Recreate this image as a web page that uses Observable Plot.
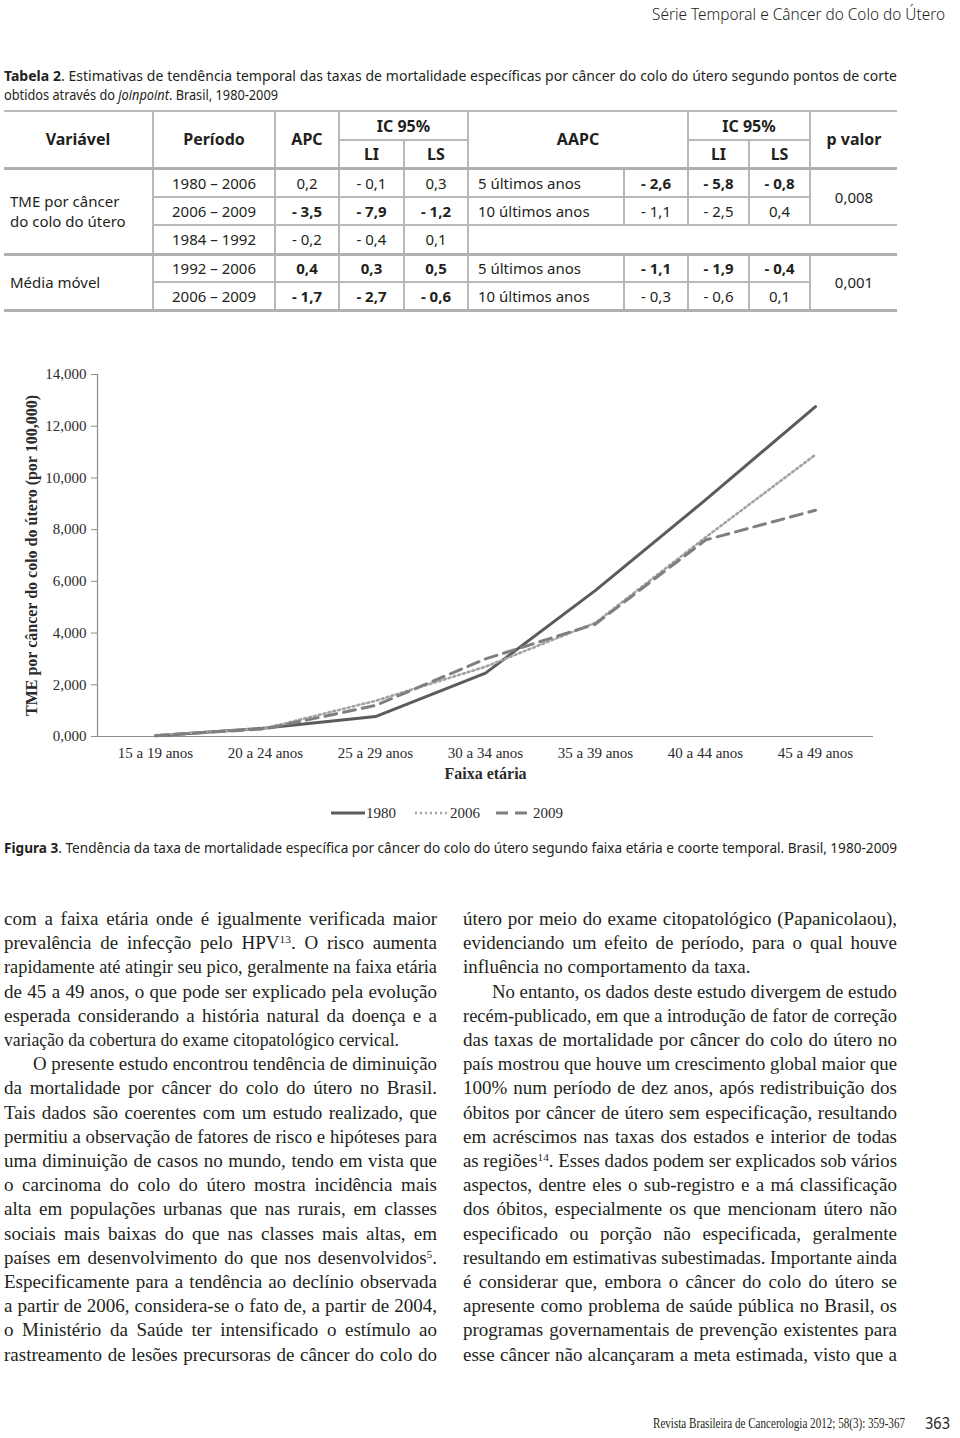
<!DOCTYPE html>
<html><head><meta charset="utf-8">
<script src="https://cdn.jsdelivr.net/npm/d3@7"></script>
<script src="https://cdn.jsdelivr.net/npm/@observablehq/plot@0.6"></script>
<style>
html,body{margin:0;padding:0;background:#fff;}
#page{position:relative;width:960px;height:1438px;overflow:hidden;color:#231f20;}
.abs{position:absolute;white-space:nowrap;}
.sans{font-family:"Noto Sans",sans-serif;}
.serif{font-family:"Liberation Serif",serif;}
sup{font-size:0.6em;vertical-align:0.55em;line-height:0;}
table.t{position:absolute;left:4px;top:110px;width:893px;border-collapse:collapse;table-layout:fixed;font-family:"Noto Sans",sans-serif;font-size:15px;color:#231f20;}
table.t td{border:2px solid #b9b9b9;text-align:center;padding:0;white-space:nowrap;}
table.t td.L{border-left:none;text-align:left;padding-left:6px;white-space:normal;line-height:20px;}
table.t td.R{border-right:none;}
table.t td.lab{text-align:left;padding-left:9px;}
table.t tr.hd td{font-weight:bold;font-size:16px;}
table.t tr.hd td.L{text-align:center;padding-left:0;}
table.t .b{font-weight:bold;}
table.t tr.major td{border-top:3px solid #b0b0b0;}
</style>
</head><body>
<div id="page"></div>
<script>
// ---------- data ----------
const ageGroups = ["15 a 19 anos","20 a 24 anos","25 a 29 anos","30 a 34 anos","35 a 39 anos","40 a 44 anos","45 a 49 anos"];
const cohorts = ["1980","2006","2009"];
const rate1980 = [0.03, 0.33, 0.77, 2.45, 5.65, 9.15, 12.76];
const rate2006 = [0.05, 0.32, 1.38, 2.70, 4.40, 7.70, 10.90];
const rate2009 = [0.03, 0.30, 1.20, 3.00, 4.35, 7.60, 8.75];
const yTicks = [0, 2, 4, 6, 8, 10, 12, 14];

const variables = ["TME por câncer<br>do colo do útero", "Média móvel"];
const periods = ["1980 – 2006","2006 – 2009","1984 – 1992","1992 – 2006","2006 – 2009"];
const apc   = ["0,2","- 3,5","- 0,2","0,4","- 1,7"];
const apcLI = ["- 0,1","- 7,9","- 0,4","0,3","- 2,7"];
const apcLS = ["0,3","- 1,2","0,1","0,5","- 0,6"];
const apcBold = [false,true,false,true,true];
const aapcLabel = ["5 últimos anos","10 últimos anos",null,"5 últimos anos","10 últimos anos"];
const aapc   = ["- 2,6","- 1,1",null,"- 1,1","- 0,3"];
const aapcLI = ["- 5,8","- 2,5",null,"- 1,9","- 0,6"];
const aapcLS = ["- 0,8","0,4",null,"- 0,4","0,1"];
const aapcBold = [true,false,false,true,false];
const pValues = ["0,008","0,001"];

const leftLines = [
 "com a faixa etária onde é igualmente verificada maior",
 "prevalência de infecção pelo HPV<sup>13</sup>. O risco aumenta",
 "rapidamente até atingir seu pico, geralmente na faixa etária",
 "de 45 a 49 anos, o que pode ser explicado pela evolução",
 "esperada considerando a história natural da doença e a",
 "variação da cobertura do exame citopatológico cervical.",
 "O presente estudo encontrou tendência de diminuição",
 "da mortalidade por câncer do colo do útero no Brasil.",
 "Tais dados são coerentes com um estudo realizado, que",
 "permitiu a observação de fatores de risco e hipóteses para",
 "uma diminuição de casos no mundo, tendo em vista que",
 "o carcinoma do colo do útero mostra incidência mais",
 "alta em populações urbanas que nas rurais, em classes",
 "sociais mais baixas do que nas classes mais altas, em",
 "países em desenvolvimento do que nos desenvolvidos<sup>5</sup>.",
 "Especificamente para a tendência ao declínio observada",
 "a partir de 2006, considera-se o fato de, a partir de 2004,",
 "o Ministério da Saúde ter intensificado o estímulo ao",
 "rastreamento de lesões precursoras de câncer do colo do"
];
const rightLines = [
 "útero por meio do exame citopatológico (Papanicolaou),",
 "evidenciando um efeito de período, para o qual houve",
 "influência no comportamento da taxa.",
 "No entanto, os dados deste estudo divergem de estudo",
 "recém-publicado, em que a introdução de fator de correção",
 "das taxas de mortalidade por câncer do colo do útero no",
 "país mostrou que houve um crescimento global maior que",
 "100% num período de dez anos, após redistribuição dos",
 "óbitos por câncer de útero sem especificação, resultando",
 "em acréscimos nas taxas dos estados e interior de todas",
 "as regiões<sup>14</sup>. Esses dados podem ser explicados sob vários",
 "aspectos, dentre eles o sub-registro e a má classificação",
 "dos óbitos, especialmente os que mencionam útero não",
 "especificado ou porção não especificada, geralmente",
 "resultando em estimativas subestimadas. Importante ainda",
 "é considerar que, embora o câncer do colo do útero se",
 "apresente como problema de saúde pública no Brasil, os",
 "programas governamentais de prevenção existentes para",
 "esse câncer não alcançaram a meta estimada, visto que a"
];

// ---------- helpers ----------
const page = document.getElementById("page");
function place(html, cls, left, top, style) {
  const d = document.createElement("div");
  d.className = "abs " + cls;
  d.style.left = left + "px"; d.style.top = top + "px";
  if (style) d.style.cssText += style;
  d.innerHTML = html;
  page.appendChild(d);
  return d;
}
function fit(el, target) {
  const w = el.getBoundingClientRect().width;
  const spaces = (el.textContent.match(/ /g) || []).length;
  if (w > target) { el.style.transformOrigin = "0 0"; el.style.transform = `scaleX(${target / w})`; }
  else if (spaces) el.style.wordSpacing = ((target - w) / spaces) + "px";
}
function fitRight(el, right, target) {
  fit(el, target);
  el.style.left = (right - target) + "px";
}

// ---------- header & table caption ----------
fitRight(place("Série Temporal e Câncer do Colo do Útero", "sans", 0, 3, "font-size:16px;line-height:22px;font-weight:300;"), 945, 293);
fit(place("<b>Tabela 2</b>. Estimativas de tendência temporal das taxas de mortalidade específicas por câncer do colo do útero segundo pontos de corte", "sans", 4, 66, "font-size:14px;line-height:20px;"), 893);
fit(place("obtidos através do <i>joinpoint</i>. Brasil, 1980-2009", "sans", 4, 85, "font-size:14px;line-height:20px;"), 274);

// ---------- table ----------
let h = `<table class="t"><colgroup>${[149,122,64,65,64,156,64,61,61,87].map(w=>`<col style="width:${w}px">`).join("")}</colgroup>`;
h += `<tr class="hd" style="height:29px"><td class="L" rowspan="2">Variável</td><td rowspan="2">Período</td><td rowspan="2">APC</td><td colspan="2">IC 95%</td><td colspan="2" rowspan="2">AAPC</td><td colspan="2">IC 95%</td><td class="R" rowspan="2">p valor</td></tr>`;
h += `<tr class="hd" style="height:28px"><td>LI</td><td>LS</td><td>LI</td><td>LS</td></tr>`;
const rowH = [29,28,29,28,28];
for (let i = 0; i < periods.length; i++) {
  const major = (i === 0 || i === 3) ? ' class="major"' : '';
  let r = `<tr${major} style="height:${rowH[i]}px">`;
  if (i === 0) r += `<td class="L" rowspan="3">${variables[0]}</td>`;
  if (i === 3) r += `<td class="L" rowspan="2">${variables[1]}</td>`;
  const b1 = apcBold[i] ? ' class="b"' : '';
  r += `<td>${periods[i]}</td><td${b1}>${apc[i]}</td><td${b1}>${apcLI[i]}</td><td${b1}>${apcLS[i]}</td>`;
  if (aapcLabel[i] === null) {
    r += `<td class="R" colspan="5"></td>`;
  } else {
    const b2 = aapcBold[i] ? ' class="b"' : '';
    r += `<td class="lab">${aapcLabel[i]}</td><td${b2}>${aapc[i]}</td><td${b2}>${aapcLI[i]}</td><td${b2}>${aapcLS[i]}</td>`;
    if (i === 0) r += `<td class="R" rowspan="2">${pValues[0]}</td>`;
    if (i === 3) r += `<td class="R" rowspan="2">${pValues[1]}</td>`;
  }
  h += r + `</tr>`;
}
h += `<tr style="height:0"><td colspan="10" style="border:none;border-top:3px solid #b0b0b0;padding:0;height:0"></td></tr></table>`;
page.insertAdjacentHTML("beforeend", h);

// ---------- chart ----------
const series = [rate1980, rate2006, rate2009];
const data = cohorts.flatMap((c, k) => ageGroups.map((a, i) => ({age: a, cohort: c, v: series[k][i]})));
const fmt = d => d3.format(".3f")(d).replace(".", ",");
const styles = {
  "1980": {stroke: "#5b5b5b", strokeWidth: 3, strokeDasharray: null},
  "2006": {stroke: "#a3a3a3", strokeWidth: 2.6, strokeDasharray: "2,3"},
  "2009": {stroke: "#7f7f7f", strokeWidth: 3, strokeDasharray: "12,7"}
};
const chart = Plot.plot({
  width: 960, height: 450,
  marginTop: 24, marginBottom: 64, marginLeft: 97, marginRight: 87,
  style: {fontFamily: '"Liberation Serif", serif', fontSize: "15px", color: "#2b2b2b", background: "transparent", overflow: "visible"},
  x: {type: "point", domain: ageGroups, padding: 0.5},
  y: {domain: [0, 14]},
  marks: [
    Plot.ruleY([0], {stroke: "#8c8c8c", strokeWidth: 1.2}),
    Plot.frame({anchor: "left", stroke: "#8c8c8c", strokeWidth: 1.2}),
    Plot.axisY(yTicks, {tickSize: 6, tickPadding: 5, tickFormat: fmt, stroke: "#8c8c8c", fill: "#2b2b2b",
      label: "TME por câncer do colo do útero (por 100,000)", labelAnchor: "center", labelOffset: 72, labelArrow: "none"}),
    Plot.axisX({tickSize: 0, tickPadding: 11, fill: "#2b2b2b", label: "Faixa etária", labelAnchor: "center", labelOffset: 42, labelArrow: "none"}),
    ...cohorts.map(c => Plot.line(data.filter(d => d.cohort === c), {x: "age", y: "v", ...styles[c], strokeLinejoin: "round"}))
  ]
});
chart.querySelectorAll('g[aria-label$="axis label"] text').forEach(t => { t.setAttribute("font-weight", "bold"); t.setAttribute("font-size", "16"); });
chart.style.position = "absolute"; chart.style.left = "0px"; chart.style.top = "350px";
page.appendChild(chart);

// ---------- legend ----------
const legendPos = {"1980": [331, 366], "2006": [415, 450], "2009": [496, 533]};
cohorts.forEach(c => {
  const [x0, tx] = legendPos[c];
  const s = styles[c];
  place(`<svg width="34" height="6"><line x1="0" x2="34" y1="3" y2="3" stroke="${s.stroke}" stroke-width="${s.strokeWidth}" ${s.strokeDasharray ? `stroke-dasharray="${s.strokeDasharray}"` : ""}/></svg>`, "", x0, 810, "line-height:0;");
  place(c, "serif", tx, 803, "font-size:15px;line-height:20px;color:#2b2b2b;");
});

// ---------- figure caption ----------
fit(place("<b>Figura 3</b>. Tendência da taxa de mortalidade específica por câncer do colo do útero segundo faixa etária e coorte temporal. Brasil, 1980-2009", "sans", 4, 838, "font-size:14px;line-height:20px;"), 893);

// ---------- body text ----------
function column(lines, x, width, lastIdx, indentIdx) {
  lines.forEach((ln, i) => {
    const ind = indentIdx.includes(i) ? 29 : 0;
    const el = place(ln, "serif", x + ind, Math.round(921 + i * 24.2) - 15, "font-size:19px;line-height:26px;");
    if (!lastIdx.includes(i)) fit(el, width - ind);
    else { const w = el.getBoundingClientRect().width; const tgt = {5: 395, 2: 293}[i]; if (w > tgt) { el.style.transformOrigin = "0 0"; el.style.transform = `scaleX(${tgt / w})`; } }
  });
}
column(leftLines, 4, 433, [5], [6]);
column(rightLines, 463, 434, [2], [3]);

// ---------- footer ----------
fit(place("Revista Brasileira de Cancerologia 2012; 58(3): 359-367", "serif", 653, 1414, "font-size:14px;line-height:20px;"), 252);
fit(place("363", "sans", 925, 1412, "font-size:17px;line-height:22px;"), 25);
</script>
</body></html>
